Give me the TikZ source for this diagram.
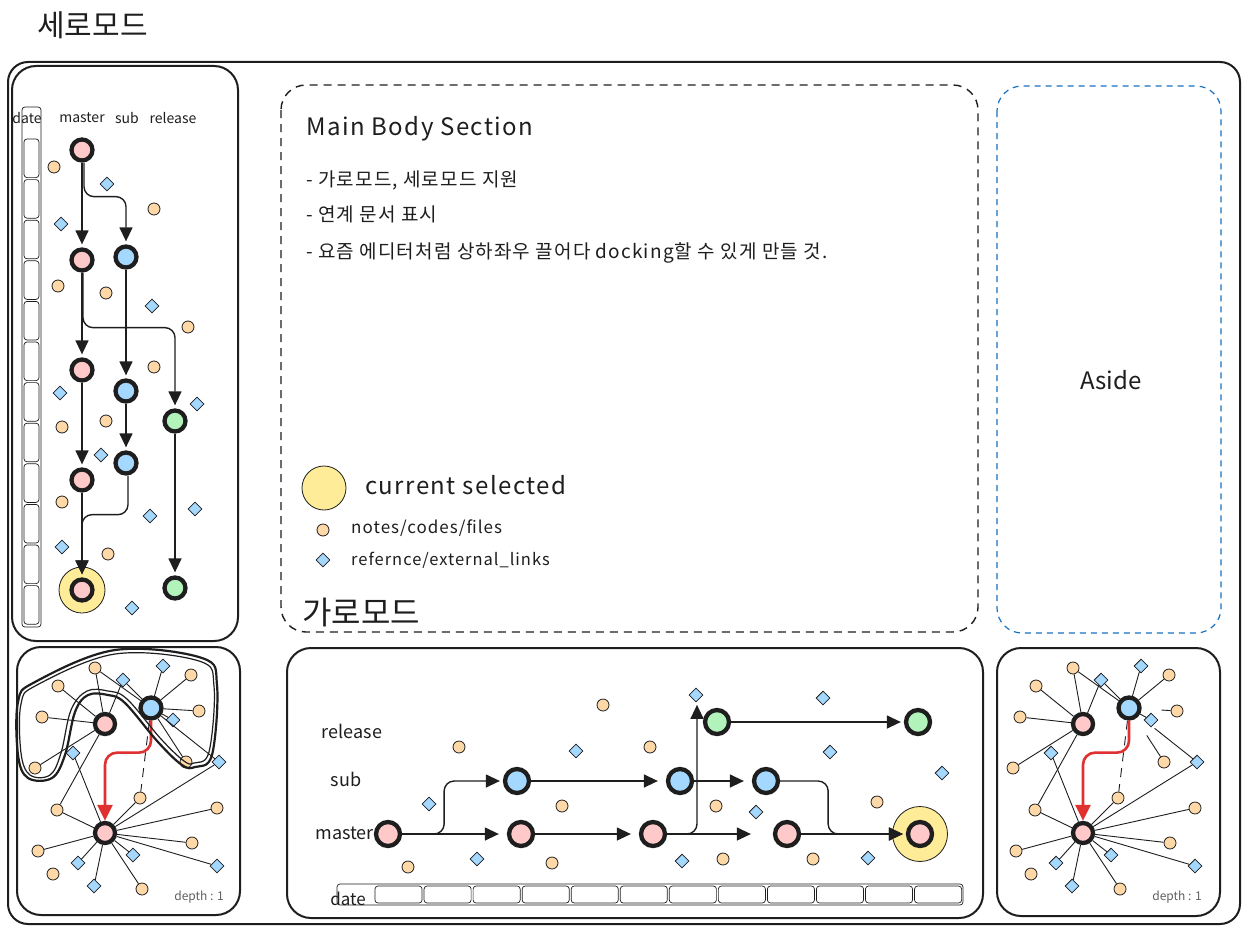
\documentclass[tikz,border=0pt]{standalone}
\usepackage{fontspec}
\setmainfont{Noto Sans CJK KR}
\usetikzlibrary{arrows.meta,shapes.geometric}

\definecolor{ink}{HTML}{1E1E1E}
\definecolor{masterpink}{HTML}{FFC9C9}
\definecolor{subblue}{HTML}{A5D8FF}
\definecolor{releasegreen}{HTML}{B2F2BB}
\definecolor{notefill}{HTML}{FFD8A8}
\definecolor{selyellow}{HTML}{FFEC99}
\definecolor{asideblue}{HTML}{1971C2}
\definecolor{linkred}{HTML}{E03131}

% one "depth : 1" graph panel: #1 name prefix, #2 x shift, #3 cut of the far links
\newcommand{\depthpanel}[3]{%
\begin{scope}[shift={(#2,0)}]
  % Nodes
  \node[mcommit, minimum size=20pt] (#1A) at (105,724) {};
  \node[scommit, minimum size=21pt] (#1B) at (151,708) {};
  \node[mcommit, minimum size=20pt] (#1C) at (105,833) {};
  \foreach \n/\x/\y in {n1/95/668, n2/58/686, n3/191/675, n4/42/717, n5/199/711,
      n6/35/768, n7/186/762, n8/140/798, n9/57/810, n10/217/808, n11/192/843,
      n12/38/851, n13/53/874, n14/142/889}
    \node[notedot] (#1\n) at (\x,\y) {};
  \foreach \n/\x/\y in {d1/163/666, d2/123/680, d3/173/720, d4/73/753, d5/219/762,
      d6/133/855, d7/78/863, d8/217/866, d9/94/886}
    \node[linkdot] (#1\n) at (\x,\y) {};
  % Links
  \foreach \s/\t in {A/n1, A/n2, A/n4, A/n6, A/d2, A/n9,
      B/n1, B/d2, B/d1, B/n3, B/d3,
      C/d4, C/n9, C/n12, C/d7, C/d9, C/n14, C/d6, C/n11, C/d8, C/n10, C/d5, C/n8}
    \draw[spoke] (#1\s) -- (#1\t);
  \foreach \t in {n5, n7, d5}
    \draw[spoke, shorten <=#3] (#1B) -- (#1\t);
  \draw[spoke, dashed, dash pattern=on 9pt off 7pt] (#1B) -- (#1n8);
  \draw[redflow] (#1B.south) -- ++(0,32) -| (#1C.north);
  \node[hand=12, text=ink!70] at (199,897) {depth : 1};
\end{scope}}

\begin{document}
\begin{tikzpicture}[x=1pt, y=-1pt,
  hand/.style={font=\fontsize{#1}{#1}\selectfont, text=ink, inner sep=0pt},
  wide/.style={font=\fontsize{#1}{#1}\selectfont\addfontfeature{LetterSpace=6}, text=ink, inner sep=0pt},
  commit/.style={circle, draw=ink, line width=4.3pt, minimum size=21pt, inner sep=0pt},
  mcommit/.style={commit, fill=masterpink},
  scommit/.style={commit, fill=subblue},
  rcommit/.style={commit, fill=releasegreen},
  notedot/.style={circle, draw=ink, line width=0.8pt, fill=notefill, minimum size=12pt, inner sep=0pt},
  linkdot/.style={diamond, draw=ink, line width=0.8pt, fill=subblue, minimum size=14pt, inner sep=0pt},
  selring/.style={circle, draw=ink, line width=0.8pt, fill=selyellow, inner sep=0pt},
  flow/.style={draw=ink, line width=1.4pt, -{Triangle[length=14pt,width=13pt]}, shorten >=3pt, rounded corners=10pt},
  redflow/.style={draw=linkred, line width=2.6pt, -{Triangle[length=16pt,width=15pt]}, rounded corners=12pt},
  spoke/.style={draw=ink, line width=0.9pt},
  panel/.style={draw=ink, line width=2pt, rounded corners=24pt},
  cell/.style={draw=ink, line width=0.7pt, rounded corners=3pt},
]
\useasboundingbox (0,0) rectangle (1255,934);
\fill[white] (0,0) rectangle (1255,934);

% Frames
\node[hand=30, anchor=west] (title) at (37,25) {세로모드};
\draw[panel, rounded corners=20pt] (8,62) rectangle (1240,924);
\draw[panel] (12,66) rectangle (238,641);
\draw[panel] (17,647) rectangle (240,915);
\draw[panel] (287,648) rectangle (983,918);
\draw[panel] (997,648) rectangle (1220,916);
\draw[ink, line width=1.4pt, dashed, dash pattern=on 8pt off 6pt, rounded corners=25pt] (281,85) rectangle (978,632);
\draw[asideblue, line width=1.2pt, dashed, dash pattern=on 6pt off 5pt, rounded corners=25pt] (997,86) rectangle (1221,633);
\node[hand=24] (aside) at (1111,380) {Aside};

% Main body section
\node[wide=24, anchor=west] (mbs) at (306,129) {Main Body Section};
\node[wide=19, anchor=west] at (306,180) {- 가로모드, 세로모드 지원};
\node[wide=19, anchor=west] at (306,214) {- 연계 문서 표시};
\node[wide=19, anchor=west] at (306,253) {- 요즘 에디터처럼 상하좌우 끌어다 docking할 수 있게 만들 것.};

% Legend
\node[selring, minimum size=44pt] (legsel) at (324,488) {};
\node[wide=24, anchor=west] at (365,485) {current selected};
\node[notedot] (legnote) at (323,530) {};
\node[wide=17, anchor=west] at (351,528) {notes/codes/files};
\node[linkdot] (leglink) at (323,560) {};
\node[wide=16.5, anchor=west] at (351,560) {refernce/external\_links};
\node[hand=32, anchor=west] (garo) at (302,612) {가로모드};

% Vertical mode: date column
\draw[cell] (22,107) rectangle (41,627);
\foreach \i in {0,...,11}
  \draw[cell] (24,{139+\i*40.6}) rectangle (39,{139+\i*40.6+38.6});
\node[hand=14] at (27,118) {date};
\node[hand=14] at (82,118) {master};
\node[hand=14] at (127,118) {sub};
\node[hand=14] at (173,118) {release};

% Vertical mode: commits
\node[selring, minimum size=46pt] (vsel) at (82,590) {};
\node[mcommit] (vm1) at (82,150) {};
\node[mcommit] (vm2) at (82,260) {};
\node[mcommit] (vm3) at (82,370) {};
\node[mcommit] (vm4) at (82,480) {};
\node[mcommit] (vm5) at (82,590) {};
\node[scommit] (vs1) at (126,257) {};
\node[scommit] (vs2) at (126,391) {};
\node[scommit] (vs3) at (126,463) {};
\node[rcommit] (vg1) at (175,421) {};
\node[rcommit] (vg2) at (175,588) {};
\foreach \n/\x/\y in {a/54/167, b/154/209, c/58/286, d/106/293, e/188/327, f/154/367,
    g/62/427, h/106/421, i/62/502, j/108/554}
  \node[notedot] (vn\n) at (\x,\y) {};
\foreach \n/\x/\y in {a/107/184, b/61/224, c/152/306, d/60/393, e/197/404, f/101/455,
    g/150/516, h/195/509, i/62/547, j/132/608}
  \node[linkdot] (vd\n) at (\x,\y) {};

% Vertical mode: flow
\draw[flow] (vm1) -- (vm2);
\draw[flow] ([xshift=2pt]vm1.south) -- ++(0,34) -| (vs1.north);
\draw[flow] (vm2) -- (vm3);
\draw[flow] ([xshift=1pt]vm2.south) -- ++(0,55) -| (vg1.north);
\draw[flow] (vs1) -- (vs2);
\draw[flow] (vm3) -- (vm4);
\draw[flow] (vs2) -- (vs3);
\draw[flow] (vg1) -- (vg2);
\draw[flow] (vm4) -- (vm5);
\draw[flow] ([xshift=2pt]vs3.south) -- ++(0,39) -| (vm5.north);

% Depth panels
\depthpanel{L}{0}{0pt}
\depthpanel{R}{978}{20pt}
\draw[ink, line width=2.2pt] plot[smooth cycle, tension=0.6] coordinates {(18,702) (35,682) (115,650)
  (202,658) (217,685) (212,755) (195,767) (182,765) (158,742) (125,703) (108,695) (88,695)
  (75,712) (65,755) (52,778) (28,778) (18,755)};
\draw[ink, line width=1.2pt] plot[smooth cycle, tension=0.6] coordinates {(21,704) (37,685) (115,654)
  (199,661) (214,686) (209,752) (194,763) (184,761) (161,739) (127,699) (108,691) (87,691)
  (71,710) (61,753) (50,775) (30,775) (21,753)};

% Horizontal mode: date bar
\draw[cell] (337,884) rectangle (963,905);
\foreach \i in {0,...,11}
  \draw[cell] ({375+\i*49.05},886) rectangle ({375+(\i+1)*49.05-2},903);
\node[hand=17] at (348,899) {date};
\node[hand=18] at (352,731) {release};
\node[hand=18] at (346,779) {sub};
\node[hand=18, anchor=east] at (374,833) {master};

% Horizontal mode: commits
\node[selring, minimum size=55pt] (hsel) at (920,834) {};
\node[mcommit, minimum size=24pt] (hm1) at (388,834) {};
\node[mcommit, minimum size=24pt] (hm2) at (521,834) {};
\node[mcommit, minimum size=24pt] (hm3) at (653,834) {};
\node[mcommit, minimum size=24pt] (hm4) at (787,834) {};
\node[mcommit, minimum size=24pt] (hm5) at (920,834) {};
\node[scommit, minimum size=24pt] (hs1) at (517,781) {};
\node[scommit, minimum size=24pt] (hs2) at (680,781) {};
\node[scommit, minimum size=24pt] (hs3) at (766,781) {};
\node[rcommit, minimum size=24pt] (hg1) at (717,722) {};
\node[rcommit, minimum size=24pt] (hg2) at (918,722) {};
\foreach \n/\x/\y in {a/603/705, b/459/747, c/562/806, d/408/867, e/552/863, f/650/747,
    g/716/806, h/877/802, i/723/859, j/813/859}
  \node[notedot] (hn\n) at (\x,\y) {};
\foreach \n/\x/\y in {a/576/751, b/429/804, c/477/859, d/696/695, e/823/698, f/830/752,
    g/942/773, h/756/812, i/682/861, j/868/858}
  \node[linkdot] (hd\n) at (\x,\y) {};

% Horizontal mode: flow
\draw[flow, shorten >=8pt] (hm1) -- (hm2);
\draw[flow] (hm1.east) -- ++(42,0) |- (hs1.west);
\draw[flow, shorten >=8pt] (hm2) -- (hm3);
\draw[flow, shorten >=8pt] (hs1) -- (hs2);
\draw[flow, shorten >=0pt] (hm3.east) -| ([xshift=-20pt,yshift=3pt]hg1.north);
\draw[flow, shorten >=22pt] (hm3) -- (hm4);
\draw[flow, shorten >=8pt] (hs2) -- (hs3);
\draw[flow] (hg1) -- (hg2);
\draw[flow] (hs3.east) -- ++(48,0) |- (hm5.west);
\draw[flow] (hm4) -- (hm5);
\end{tikzpicture}
\end{document}
